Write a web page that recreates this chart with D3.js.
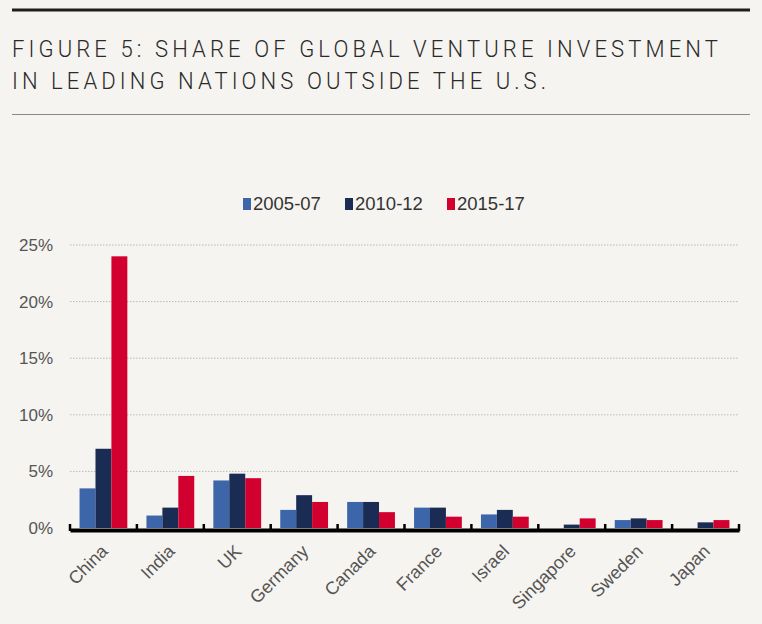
<!DOCTYPE html>
<html>
<head>
<meta charset="utf-8">
<script src="https://cdn.jsdelivr.net/npm/d3@7"></script>
<style>
  body { margin: 0; background: #f5f4f0; }
  svg { display: block; }
</style>
</head>
<body>
<svg id="svg" width="762" height="624"></svg>
<script>
const countries = ['China', 'India', 'UK', 'Germany', 'Canada', 'France', 'Israel', 'Singapore', 'Sweden', 'Japan']
const series = ['2005-07', '2010-12', '2015-17']
const share0507 = [3.5, 1.1, 4.2, 1.6, 2.3, 1.8, 1.2, 0, 0.7, 0]
const share1012 = [7.0, 1.8, 4.8, 2.9, 2.3, 1.8, 1.6, 0.3, 0.85, 0.5]
const share1517 = [24.0, 4.6, 4.4, 2.3, 1.4, 1.0, 1.0, 0.85, 0.7, 0.7]
const yTicks = [0, 5, 10, 15, 20, 25]
const colors = ['#3d65a9', '#1b2c54', '#d2002f']

const values = [share0507, share1012, share1517]
const rows = countries.map((c, i) => ({
  country: c,
  bars: series.map((s, j) => ({ key: s, value: values[j][i] }))
}))

const svg = d3.select('#svg')

// header rules and title
svg.append('line').attr('x1', 12).attr('x2', 750).attr('y1', 10).attr('y2', 10)
  .attr('stroke', '#1e1e1e').attr('stroke-width', 3)
svg.append('line').attr('x1', 12).attr('x2', 750).attr('y1', 114.5).attr('y2', 114.5)
  .attr('stroke', '#8a8a8a').attr('stroke-width', 1)

// condensed look: squeeze glyphs a bit, then spread letters out to the target width
const sx = 0.9
const title = svg.append('g')
  .attr('transform', `translate(12,0) scale(${sx},1)`)
  .style('font-family', 'Roboto, sans-serif')
  .style('font-weight', 300)
  .style('font-size', '24.5px')
  .attr('fill', '#2a2a2a')
title.append('text').attr('x', 0).attr('y', 57)
  .attr('textLength', 706 / sx).attr('lengthAdjust', 'spacing')
  .text('FIGURE 5: SHARE OF GLOBAL VENTURE INVESTMENT')
title.append('text').attr('x', 0).attr('y', 89.5)
  .attr('textLength', 534 / sx).attr('lengthAdjust', 'spacing')
  .text('IN LEADING NATIONS OUTSIDE THE U.S.')

// scales
const x0 = d3.scaleBand().domain(countries).range([70, 739]).padding(0)
const x1 = d3.scaleBand().domain(series).range([0, x0.bandwidth()]).paddingInner(0).paddingOuter(0.6)
const y = d3.scaleLinear().domain([0, 25]).range([528, 245])
const color = d3.scaleOrdinal().domain(series).range(colors)

// grid
svg.append('g')
  .selectAll('line')
  .data(yTicks.filter(d => d > 0))
  .join('line')
  .attr('x1', 70).attr('x2', 739)
  .attr('y1', d => y(d)).attr('y2', d => y(d))
  .attr('stroke', '#b9b9b9')
  .attr('stroke-width', 1)
  .attr('stroke-dasharray', '1.5,1.5')

// y axis labels
const yAxis = svg.append('g')
  .attr('transform', 'translate(53,0)')
  .call(d3.axisLeft(y).tickValues(yTicks).tickFormat(d => d + '%').tickSize(0).tickPadding(0))
yAxis.select('.domain').remove()
yAxis.selectAll('text')
  .style('font-family', '"Liberation Sans", Arial, sans-serif')
  .style('font-size', '17px')
  .attr('fill', '#555')

// bars
const groups = svg.append('g')
  .selectAll('g')
  .data(rows)
  .join('g')
  .attr('transform', d => `translate(${x0(d.country)},0)`)
groups.selectAll('rect')
  .data(d => d.bars)
  .join('rect')
  .attr('x', d => x1(d.key))
  .attr('width', x1.bandwidth())
  .attr('y', d => y(d.value))
  .attr('height', d => y(0) - y(d.value))
  .attr('fill', d => color(d.key))

// x axis
const xAxis = svg.append('g')
  .attr('transform', `translate(0,${y(0) + 2})`)
  .call(d3.axisBottom(x0).tickSize(0).tickPadding(0))
xAxis.select('.domain').attr('stroke', '#000').attr('stroke-width', 4)
xAxis.selectAll('text').remove()
// boundary ticks
svg.append('g')
  .selectAll('line')
  .data(countries.map(c => x0(c)).concat([x0.range()[1]]))
  .join('line')
  .attr('x1', d => d).attr('x2', d => d)
  .attr('y1', y(0) - 4).attr('y2', y(0) + 3)
  .attr('stroke', '#000').attr('stroke-width', 2.5)

svg.append('g')
  .selectAll('text')
  .data(countries)
  .join('text')
  .attr('transform', d => `translate(${x0(d) + x0.bandwidth() / 2 + 1},${y(0) + 20}) rotate(-45)`)
  .attr('text-anchor', 'end')
  .attr('dy', '0.35em')
  .style('font-family', '"Liberation Sans", Arial, sans-serif')
  .style('font-size', '18px')
  .attr('fill', '#555')
  .text(d => d)

// legend
const legend = svg.append('g')
  .selectAll('g')
  .data(series)
  .join('g')
  .attr('transform', (d, i) => `translate(${243 + i * 102},0)`)
legend.append('rect')
  .attr('x', 0).attr('y', 198).attr('width', 8).attr('height', 12)
  .attr('fill', d => color(d))
legend.append('text')
  .attr('x', 10).attr('y', 210)
  .style('font-family', '"Liberation Sans", Arial, sans-serif')
  .style('font-size', '18.5px')
  .attr('fill', '#333')
  .text(d => d)
</script>
</body>
</html>
